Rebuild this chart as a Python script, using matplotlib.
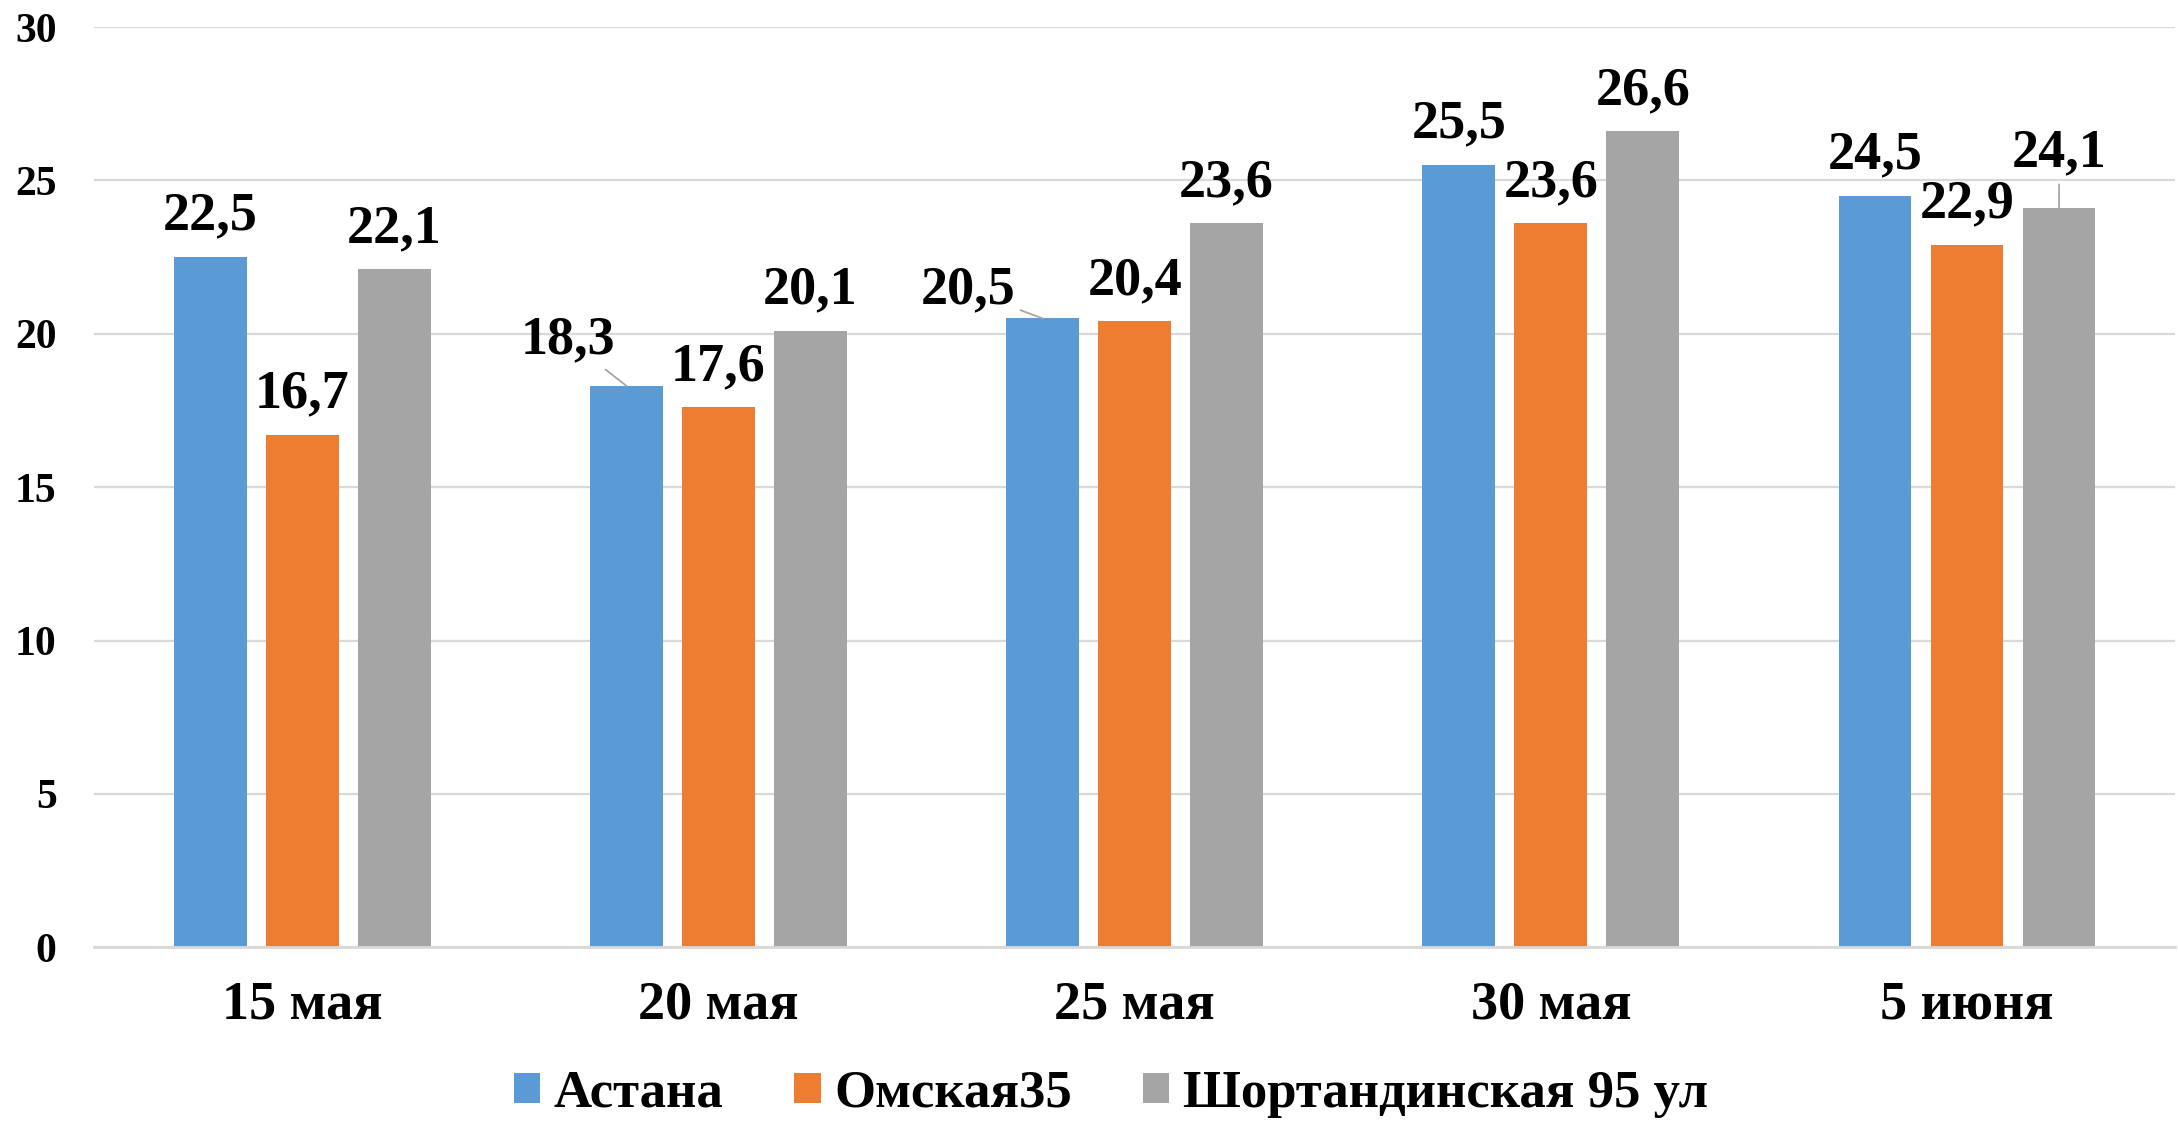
import numpy as np
import matplotlib
matplotlib.use("Agg")
import matplotlib.pyplot as plt

dates = ["15 мая", "20 мая", "25 мая", "30 мая", "5 июня"]
series_names = ["Астана", "Омская35", "Шортандинская 95 ул"]
astana = [22.5, 18.3, 20.5, 25.5, 24.5]
omskaya = [16.7, 17.6, 20.4, 23.6, 22.9]
shortandy = [22.1, 20.1, 23.6, 26.6, 24.1]
colors = ["#5B9BD5", "#ED7D31", "#A5A5A5"]

plt.rcParams['font.family'] = ['Liberation Serif', 'DejaVu Serif']
plt.rcParams['font.weight'] = 'bold'

fig = plt.figure(figsize=(21.78, 11.25), dpi=100)
ax = fig.add_axes([0.0432, 0.158, 0.9555, 0.818])

x = np.arange(len(dates))
width = 0.175
step = 0.221

# label offsets in points (dx, dy) for labels with leader lines, keyed (series, date)
special = {
    (0, 1): (-42, 33),
    (0, 2): (-54, 20),
    (2, 4): (0, 39),
}

all_series = [astana, omskaya, shortandy]
for i, (vals, name, c) in enumerate(zip(all_series, series_names, colors)):
    pos = x + (i - 1) * step
    ax.bar(pos, vals, width, color=c, label=name, zorder=3)
    for j, v in enumerate(vals):
        txt = f"{v:.1f}".replace(".", ",")
        if (i, j) in special:
            dx, dy = special[(i, j)]
            ax.annotate(txt, xy=(pos[j], v), xytext=(dx, dy), textcoords="offset points",
                        ha="center", va="center", fontsize=39, fontweight="bold",
                        arrowprops=dict(arrowstyle="-", color="#A6A6A6", lw=1.3,
                                        shrinkA=2, shrinkB=0), zorder=4)
        else:
            ax.annotate(txt, xy=(pos[j], v), xytext=(0, 29), textcoords="offset points",
                        ha="center", va="center", fontsize=39, fontweight="bold", zorder=4)

ax.set_xlim(-0.5, 4.5)
ax.set_ylim(0, 30)
ax.set_yticks(range(0, 31, 5))
ax.set_xticks(x)
ax.set_xticklabels(dates)
ax.tick_params(axis="y", length=0, labelsize=30, pad=27)
ax.tick_params(axis="x", length=0, labelsize=39, pad=24)
for lab in ax.get_xticklabels() + ax.get_yticklabels():
    lab.set_fontweight("bold")

ax.grid(axis="y", color="#D9D9D9", lw=1.6, zorder=0)
for s in ["top", "right", "left"]:
    ax.spines[s].set_visible(False)
ax.spines["bottom"].set_color("#D9D9D9")
ax.spines["bottom"].set_linewidth(2)
ax.spines["bottom"].set_zorder(4)

fig.legend(loc="center", bbox_to_anchor=(0.51, 0.028), ncol=3, frameon=False,
           prop={"size": 38, "weight": "bold"}, handlelength=0.5, handleheight=0.5,
           handletextpad=0.25, columnspacing=1.35, borderaxespad=0)

fig.savefig("out.png", dpi=100)
